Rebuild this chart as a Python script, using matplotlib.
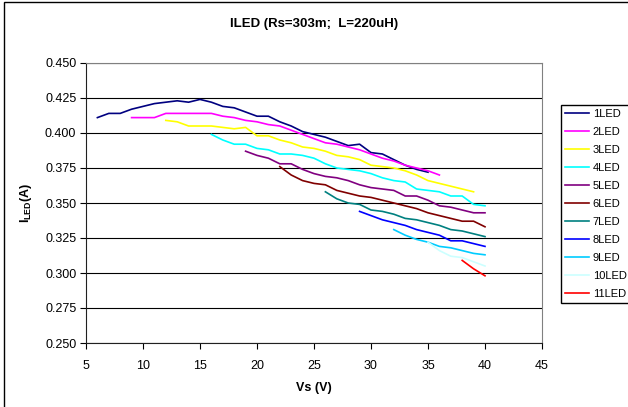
import matplotlib
matplotlib.use("Agg")
import matplotlib.pyplot as plt
from matplotlib.patches import Rectangle
import numpy as np

plt.rcParams["font.family"] = ["Liberation Sans", "DejaVu Sans"]
plt.rcParams["mathtext.fontset"] = "custom"
plt.rcParams["mathtext.bf"] = "Liberation Sans:bold"
plt.rcParams["mathtext.rm"] = "Liberation Sans"

# Vs (V) de inicio de cada serie, paso de 1 V
inicio = [6, 9, 12, 16, 19, 22, 26, 29, 32, 35, 38]

led1 = [0.411, 0.414, 0.414, 0.417, 0.419, 0.421, 0.422, 0.423, 0.422, 0.424,
        0.422, 0.419, 0.418, 0.415, 0.412, 0.412, 0.408, 0.405, 0.401, 0.399,
        0.397, 0.394, 0.391, 0.392, 0.386, 0.385, 0.381, 0.377, 0.374, 0.372]
led2 = [0.411, 0.411, 0.411, 0.414, 0.414, 0.414, 0.414, 0.414, 0.412, 0.411,
        0.409, 0.408, 0.406, 0.405, 0.402, 0.399, 0.396, 0.393, 0.392, 0.390,
        0.388, 0.385, 0.382, 0.380, 0.377, 0.375, 0.373, 0.370]
led3 = [0.409, 0.408, 0.405, 0.405, 0.405, 0.404, 0.403, 0.404, 0.398, 0.398,
        0.395, 0.393, 0.390, 0.389, 0.387, 0.384, 0.383, 0.381, 0.377, 0.376,
        0.375, 0.373, 0.370, 0.366, 0.364, 0.362, 0.360, 0.358]
led4 = [0.399, 0.395, 0.392, 0.392, 0.389, 0.388, 0.385, 0.385, 0.384, 0.382,
        0.378, 0.375, 0.374, 0.373, 0.371, 0.368, 0.366, 0.365, 0.360, 0.359,
        0.358, 0.355, 0.355, 0.349, 0.348]
led5 = [0.387, 0.384, 0.382, 0.378, 0.378, 0.374, 0.371, 0.369, 0.368, 0.366,
        0.363, 0.361, 0.360, 0.359, 0.355, 0.355, 0.352, 0.348, 0.347, 0.345,
        0.343, 0.343]
led6 = [0.376, 0.370, 0.366, 0.364, 0.363, 0.359, 0.357, 0.355, 0.354, 0.352,
        0.350, 0.348, 0.346, 0.343, 0.341, 0.339, 0.337, 0.337, 0.333]
led7 = [0.358, 0.353, 0.350, 0.349, 0.345, 0.344, 0.342, 0.339, 0.338, 0.336,
        0.334, 0.331, 0.330, 0.328, 0.326]
led8 = [0.344, 0.341, 0.338, 0.336, 0.334, 0.331, 0.329, 0.327, 0.323, 0.323,
        0.321, 0.319]
led9 = [0.331, 0.327, 0.324, 0.322, 0.319, 0.318, 0.316, 0.314, 0.313]
led10 = [0.322, 0.316, 0.312, 0.311, 0.308, 0.305]
led11 = [0.309, 0.303, 0.298]

series = [led1, led2, led3, led4, led5, led6, led7, led8, led9, led10, led11]
nombres = ["1LED", "2LED", "3LED", "4LED", "5LED", "6LED", "7LED", "8LED",
           "9LED", "10LED", "11LED"]
colores = ["#000080", "#FF00FF", "#FFFF00", "#00FFFF", "#800080", "#800000",
           "#008080", "#0000FF", "#00CCFF", "#CCFFFF", "#FF0000"]

fig = plt.figure(figsize=(6.28, 4.07), dpi=100)
ax = fig.add_axes([86 / 628, 1 - 343 / 407, 456 / 628, 280 / 407])

for v0, vals, nom, col in zip(inicio, series, nombres, colores):
    vs = np.arange(v0, v0 + len(vals))
    ax.plot(vs, vals, color=col, lw=1.2, label=nom)

ax.set_xlim(5, 45)
ax.set_ylim(0.25, 0.45)
ax.set_xticks(np.arange(5, 46, 5))
ax.set_yticks(np.arange(0.25, 0.451, 0.025))
ax.yaxis.set_major_formatter(matplotlib.ticker.FormatStrFormatter("%.3f"))
ax.grid(axis="y", color="black", lw=0.8)
ax.set_axisbelow(True)
ax.tick_params(labelsize=9, length=4, width=0.8, direction="out")
ax.tick_params(axis="x", pad=8)
ax.tick_params(axis="y", pad=3)

for lado in ["top", "right"]:
    ax.spines[lado].set_color("#808080")
for lado in ["left", "bottom"]:
    ax.spines[lado].set_color("#202020")

ax.set_xlabel("Vs (V)", fontsize=9, fontweight="bold", labelpad=7.5)
ax.set_ylabel(r"$\mathbf{I_{LED}}$(A)", fontsize=9, fontweight="bold", labelpad=8)
fig.text(314 / 628, 1 - 24 / 407, "ILED (Rs=303m;  L=220uH)", fontsize=9.5,
         fontweight="bold", ha="center", va="center")

fig.legend(loc="upper left", bbox_to_anchor=(561 / 628, 1 - 105 / 407),
           fontsize=8, frameon=True, fancybox=False, edgecolor="black",
           framealpha=1, handlelength=2.2, handletextpad=0.3,
           labelspacing=0.72, borderpad=0.35, borderaxespad=0)

fig.patches.append(Rectangle((4 / 628, -0.1), 1.2, 1.1 - 2 / 407,
                             transform=fig.transFigure, fill=False,
                             edgecolor="black", lw=1))

fig.savefig("out.png", dpi=100)
